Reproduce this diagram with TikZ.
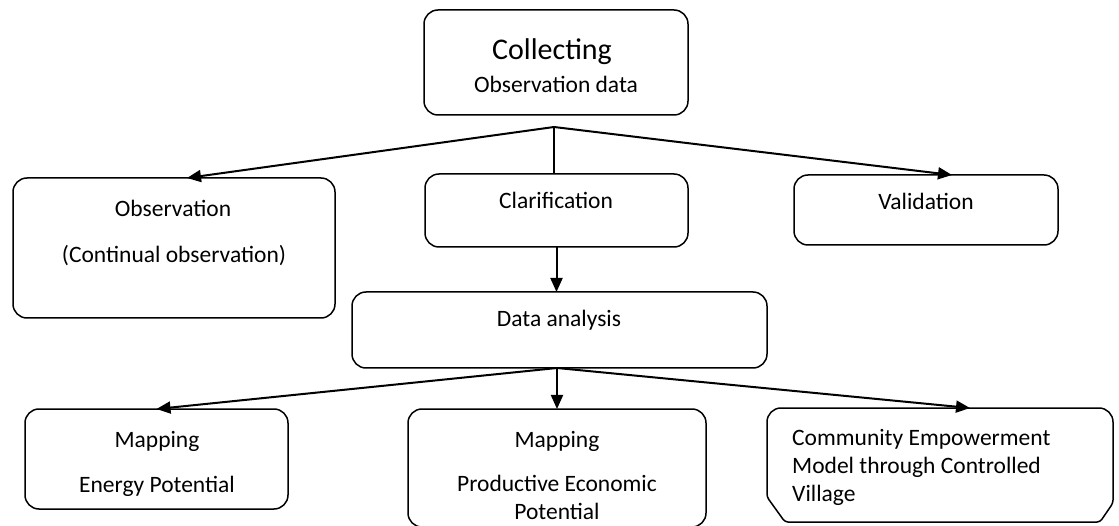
\documentclass[tikz,border=0pt]{standalone}
\usepackage{fontspec}
\setmainfont{Carlito}
\usepackage{tikz}
\usetikzlibrary{arrows.meta, positioning, calc}
\tikzset{>={Triangle[length=14pt, width=12pt]}}

\begin{document}
\begin{tikzpicture}[x=1pt, y=-1pt,
        box/.style={draw, rounded corners=14pt, line width=1.5pt, inner sep=0pt, outer sep=0pt},
        txt/.style={font=\fontsize{23.5}{28}\selectfont, inner sep=0pt, anchor=base},
        link/.style={line width=2pt}]
        \useasboundingbox (0,0) rectangle (1119,526);
        % boxes
        \node[box, minimum width=264pt, minimum height=105pt] (collect) at (556,62.5) {};
        \node[box, minimum width=322pt, minimum height=140pt] (obs) at (174,248) {};
        \node[box, minimum width=263pt, minimum height=73pt] (clar) at (556.5,210.5) {};
        \node[box, minimum width=264pt, minimum height=70pt] (valid) at (926,210) {};
        \node[box, minimum width=415pt, minimum height=76pt] (data) at (559.5,330) {};
        \node[box, minimum width=263pt, minimum height=100pt] (energy) at (156.5,459) {};
        \node[box, minimum width=298pt, minimum height=118pt] (prod) at (557,468) {};
        \draw[line width=1.5pt] (785,522) [rounded corners=3pt]-- (767,497)
            [rounded corners=14pt]-- (767,408) -- (1113,408) [rounded corners=3pt]-- (1113,503) -- (1100,522) -- cycle;
        % texts
        \node[txt, font=\fontsize{30}{34}\selectfont] (collectA) at (552,60) {Collecting};
        \node[txt] (collectB) at (556,93) {Observation data};
        \node[txt] (obsA) at (173,216.5) {Observation};
        \node[txt] (obsB) at (174,263) {(Continual observation)};
        \node[txt] (clarA) at (556,209) {Clarification};
        \node[txt] (validA) at (926,210) {Validation};
        \node[txt] (dataA) at (559,326.5) {Data analysis};
        \node[txt] (energyA) at (157,447.5) {Mapping};
        \node[txt] (energyB) at (157,492.5) {Energy Potential};
        \node[txt] (prodA) at (557,447.5) {Mapping};
        \node[txt] (prodB) at (557,491) {Productive Economic};
        \node[txt] (prodC) at (557,519) {Potential};
        \foreach \t [count=\i] in {Community Empowerment, Model through Controlled, Village}
        {
            \node[txt, anchor=base west] (comm\i) at (792,417+28*\i) {\t};
        }
        % connectors
        \coordinate (split1) at (554,127);
        \coordinate (split2) at (557,368);
        \coordinate (commtop) at (970,408);
        \draw[link, ->] (split1) -- ([xshift=13pt]obs.north);
        \draw[link] (split1) -- (split1 |- clar.north);
        \draw[link, ->] (split1) -- ([xshift=26pt]valid.north);
        \draw[link, ->] (clar.south) -- (clar.south |- data.north);
        \draw[link, ->] (split2) -- (energy.north);
        \draw[link, ->] (split2) -- (split2 |- prod.north);
        \draw[link, ->] (split2) -- (commtop);
\end{tikzpicture}
\end{document}
